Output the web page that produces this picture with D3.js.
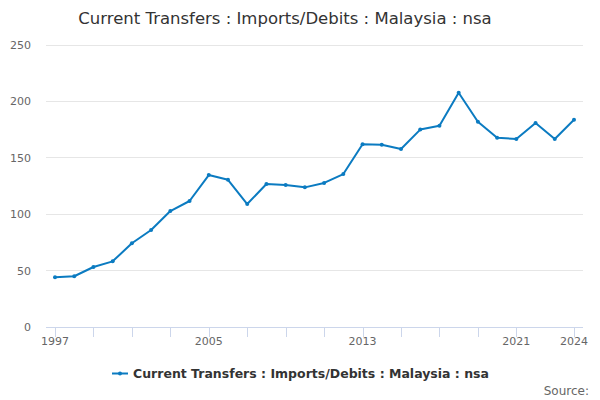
<!DOCTYPE html>
<html><head><meta charset="utf-8">
<script src="https://cdn.jsdelivr.net/npm/d3@7"></script>
<style>body{margin:0;background:#fff}svg{font-family:"DejaVu Sans",sans-serif}</style>
</head><body>
<svg id="c" width="600" height="400"></svg>
<script>
const years = [1997,1998,1999,2000,2001,2002,2003,2004,2005,2006,2007,2008,2009,2010,2011,2012,2013,2014,2015,2016,2017,2018,2019,2020,2021,2022,2023,2024];
const values = [44.0,45.0,53.2,58.2,74.2,86.0,102.8,111.7,134.7,130.5,109.0,126.8,125.9,123.8,127.7,135.6,162.0,161.6,157.8,175.0,178.5,207.7,182.0,167.8,166.7,180.8,166.7,183.8];
const tickYears = [1997,1999,2001,2003,2005,2007,2009,2011,2013,2015,2017,2019,2021,2024];
const labelYears = [1997,2005,2013,2021,2024];
const yTicks = [0,50,100,150,200,250];
const title = "Current Transfers : Imports/Debits : Malaysia : nsa";
const color = "#0b7bc1";

const svg = d3.select("#c");
const x = d3.scaleLinear().domain([1997,2024]).range([55,574]);
const y = d3.scaleLinear().domain([0,250]).range([327,45]);
const L = 46, R = 583;

svg.append("text").attr("x",285).attr("y",24).attr("text-anchor","middle")
  .attr("font-size",16.5).attr("fill","#333").text(title);

svg.append("g").selectAll("line").data(yTicks.filter(d=>d>0)).join("line")
  .attr("x1",L).attr("x2",R).attr("y1",d=>y(d)).attr("y2",d=>y(d))
  .attr("stroke","#e6e6e6").attr("stroke-width",1).attr("shape-rendering","crispEdges");
svg.append("g").selectAll("text").data(yTicks).join("text")
  .attr("x",31).attr("y",d=>y(d)+4).attr("text-anchor","end")
  .attr("font-size",11).attr("fill","#666").text(d=>d);

svg.append("line").attr("x1",L).attr("x2",R).attr("y1",327.5).attr("y2",327.5)
  .attr("stroke","#ccd6eb").attr("stroke-width",1);
svg.append("g").selectAll("line").data(tickYears).join("line")
  .attr("x1",d=>Math.round(x(d))+0.5).attr("x2",d=>Math.round(x(d))+0.5).attr("y1",327).attr("y2",337)
  .attr("stroke","#ccd6eb").attr("stroke-width",1);
svg.append("g").selectAll("text").data(labelYears).join("text")
  .attr("x",d=>x(d)).attr("y",345).attr("text-anchor","middle")
  .attr("font-size",11).attr("fill","#666").text(d=>d);

const line = d3.line().x((d,i)=>x(years[i])).y(d=>y(d));
svg.append("path").datum(values).attr("d",line).attr("fill","none")
  .attr("stroke",color).attr("stroke-width",2).attr("stroke-linejoin","round");
svg.append("g").selectAll("circle").data(values).join("circle")
  .attr("cx",(d,i)=>x(years[i])).attr("cy",d=>y(d)).attr("r",2).attr("fill",color);

const lg = svg.append("g");
lg.append("line").attr("x1",112).attr("x2",128).attr("y1",373.5).attr("y2",373.5).attr("stroke",color).attr("stroke-width",2);
lg.append("circle").attr("cx",120).attr("cy",373.5).attr("r",2).attr("fill",color);
lg.append("text").attr("x",133).attr("y",378).attr("font-size",12.5).attr("font-weight","bold")
  .attr("fill","#333").text(title);

svg.append("text").attr("x",589).attr("y",395).attr("text-anchor","end")
  .attr("font-size",12).attr("fill","#666").text("Source:");
</script>
</body></html>
